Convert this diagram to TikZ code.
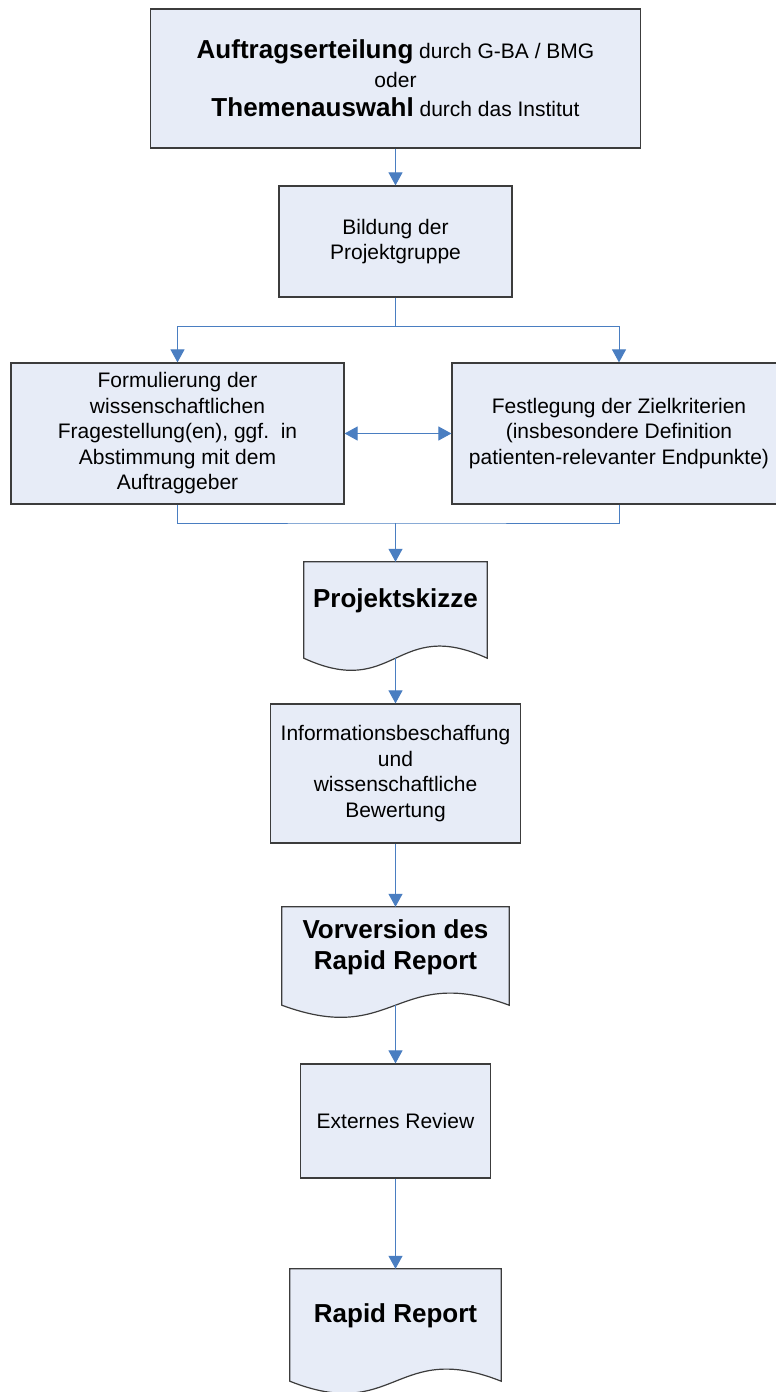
\documentclass[tikz,border=0pt]{standalone}
\usepackage{fontspec}
\setmainfont{Liberation Sans}
\usetikzlibrary{arrows.meta}

\definecolor{boxfill}{RGB}{231,236,247}
\definecolor{boxline}{RGB}{60,60,60}
\definecolor{linkblue}{RGB}{74,126,193}

\pgfdeclarelayer{bg}
\pgfsetlayers{bg,main}

% bold head words in the first box
\newcommand{\headword}[1]{{\fontsize{26}{29}\selectfont\bfseries #1}}
% document shape (wavy bottom) behind a doc node
\newcommand{\wavedoc}[1]{%
\begin{pgfonlayer}{bg}
\draw[docline] (#1.north west) -- (#1.north east) -- ([yshift=-18pt]#1.south east)
  .. controls ([yshift=24pt]#1.south) and ([yshift=-60pt]#1.south) .. ([yshift=-18pt]#1.south west) -- cycle;
\end{pgfonlayer}
\coordinate (#1 end) at ([yshift=-18pt]#1.south);
}

\begin{document}
\begin{tikzpicture}[x=1pt,y=-1pt,
  >={Triangle[length=13pt,width=14pt]},
  box/.style={draw=boxline,fill=boxfill,line width=1.2pt,align=center,inner sep=0pt,
    font={\fontsize{21}{25.5}\selectfont}},
  doc/.style={align=center,inner sep=0pt,font={\fontsize{26}{31}\selectfont\bfseries}},
  docline/.style={draw=boxline,fill=boxfill,line width=1.2pt},
  link/.style={draw=linkblue,line width=1pt,->},
  joint/.style={draw=linkblue,line width=1pt}]
\useasboundingbox (0,0) rectangle (776,1392);
\begin{pgfonlayer}{bg}
\fill[white] (0,0) rectangle (776,1392);
\end{pgfonlayer}

% boxes
\node[box,minimum width=490pt,minimum height=139pt,font={\fontsize{21}{29}\selectfont}] (auftrag) at (395.5,78.5)
  {\headword{Auftragserteilung} durch G-BA / BMG\\oder\\\headword{Themenauswahl} durch das Institut};
\node[box,minimum width=233pt,minimum height=111pt] (bildung) at (395.5,241.5) {Bildung der\\Projektgruppe};
\node[box,minimum width=333pt,minimum height=141pt] (formul) at (177.5,433.5)
  {Formulierung der\\wissenschaftlichen\\Fragestellung(en), ggf.\ \ in\\Abstimmung mit dem\\Auftraggeber};
\node[box,minimum width=334pt,minimum height=141pt] (ziel) at (619,433.5)
  {Festlegung der Zielkriterien\\(insbesondere Definition\\patienten-relevanter Endpunkte)};
\node[doc,minimum width=183pt,minimum height=78pt] (skizze) at (395.5,601) {Projektskizze};
\wavedoc{skizze}
\node[box,minimum width=250pt,minimum height=139pt] (info) at (395.5,773.5)
  {Informationsbeschaffung\\und\\wissenschaftliche\\Bewertung};
\node[doc,minimum width=227pt,minimum height=80pt] (vorversion) at (395.5,947) {Vorversion des\\Rapid Report};
\wavedoc{vorversion}
\node[box,minimum width=190pt,minimum height=114pt] (review) at (395.5,1121) {Externes Review};
\node[doc,minimum width=211pt,minimum height=94pt] (rapid) at (395.5,1316) {Rapid Report};
\wavedoc{rapid}

% connectors
\coordinate (split) at (395.5,326);
\coordinate (merge) at (395.5,523);
\draw[link] (auftrag) -- (bildung);
\draw[joint] (bildung.south) -- (split);
\draw[link] (split) -| (formul.north);
\draw[link] (split) -| (ziel.north);
\draw[link,<->] (formul) -- (ziel);
\draw[joint] (formul.south) |- (merge) -| (ziel.south);
\draw[link] (merge) -- (skizze.north);
\draw[link] (skizze end) -- (info);
\draw[link] (info) -- (vorversion.north);
\draw[link] (vorversion end) -- (review);
\draw[link] (review) -- (rapid.north);
\end{tikzpicture}
\end{document}
